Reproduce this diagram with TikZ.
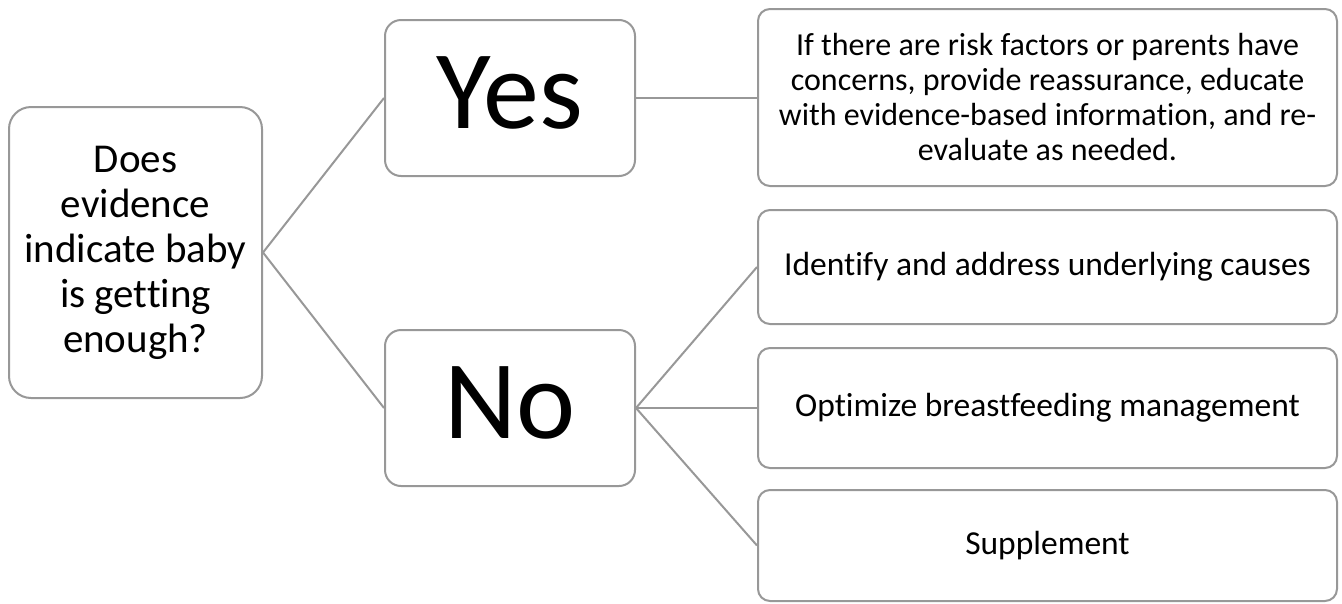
\documentclass[tikz,border=0pt]{standalone}
\usepackage{fontspec}
\setmainfont{Carlito}[Ligatures=NoCommon]
\usepackage{tikz}
\usetikzlibrary{positioning}
\definecolor{linegray}{RGB}{152,152,152}

\begin{document}
\begin{tikzpicture}[x=1pt,y=-1pt,
  box/.style={rectangle,draw=linegray,line width=2pt,fill=white,align=center,inner sep=0pt},
  qbox/.style={box,rounded corners=22pt,minimum width=253pt,minimum height=291pt,
    font=\fontsize{41}{45}\selectfont},
  ansbox/.style={box,rounded corners=16pt,minimum width=250pt,minimum height=156pt,
    text depth=10pt,font=\fontsize{112}{120}\selectfont},
  actbox/.style={box,rounded corners=12pt,minimum width=579pt,
    font=\fontsize{33.5}{35}\selectfont},
  link/.style={draw=linegray,line width=2pt}]

\useasboundingbox (0,0) rectangle (1342,603);

% question
\node[qbox] (q) at (135.5,252.5) {Does\\evidence\\indicate baby\\is getting\\enough?};

% answers
\node[ansbox] (yes) at (510,98) {Yes};
\node[ansbox] (no) at (510,408) {No};

% actions
\node[actbox,minimum height=177pt,font=\fontsize{32}{35}\selectfont] (act1) at (1047.5,97.5)
  {If there are risk factors or parents have\\concerns, provide reassurance, educate\\with evidence-based information, and re-\\evaluate as needed.};
\node[actbox,minimum height=114pt] (act2) at (1047.5,267) {Identify and address underlying causes};
\node[actbox,minimum height=120pt] (act3) at (1047.5,408) {Optimize breastfeeding management};
\node[actbox,minimum height=111pt] (act4) at (1047.5,545.5) {Supplement};

\draw[link] (q.east) -- (yes.west);
\draw[link] (q.east) -- (no.west);
\draw[link] (yes.east) -- (yes.east -| act1.west);
\draw[link] (no.east) -- (act2.west);
\draw[link] (no.east) -- (act3.west);
\draw[link] (no.east) -- (act4.west);

\end{tikzpicture}
\end{document}
